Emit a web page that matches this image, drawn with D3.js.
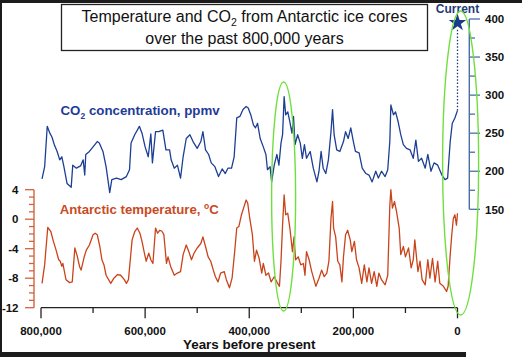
<!DOCTYPE html>
<html><head><meta charset="utf-8">
<script src="https://cdn.jsdelivr.net/npm/d3@7"></script>
<style>
html,body{margin:0;padding:0;background:#fff;}
svg{display:block;font-family:"Liberation Sans",Arial,sans-serif;}
</style></head>
<body><svg id="c" width="522" height="357"></svg>
<script>
// ---- data (age in thousand years before present) ----
const co2Age = [798,793,788,783,779,774,769,764,760,756,750,742,739,732,724,719,716,714,707,700,692,688,681,675,668,664,655,646,636,630,627,620,611,606,600,594,589,586,580,574,566,560,553,550,544,538,532,527,521,514,508,500,493,489,484,478,473,466,459,452,446,441,434,429,424,418,412,406,402,397,392,388,384,379,373,368,365,360,357,352,347,343,339,336,333,330,326,322,318,315,312,307,302,298,294,290,283,277,270,266,262,258,253,248,243,240,237,232,226,219,215,210,205,200,196,189,183,176,170,164,157,152,146,139,134,130,128,123,119,114,109,104,98,91,85,80,75,69,62,57,51,45,38,30,24,19,14,10,5,0];
const co2Val = [190,206,259,250,245,234,226,215,219,206,184,179,208,204,207,215,195,222,226,232,239,237,226,206,172,189,191,189,193,202,237,248,259,250,232,219,249,211,252,252,254,228,228,215,204,208,191,219,243,248,239,230,239,252,228,222,211,206,193,203,197,204,204,219,270,272,281,285,283,274,261,257,263,243,232,222,202,206,186,208,222,208,237,248,298,274,278,265,250,272,235,248,237,217,235,217,226,204,186,200,226,204,197,215,252,281,248,228,226,239,252,243,257,239,226,224,204,197,195,186,200,191,200,193,202,239,287,274,278,265,248,235,230,228,217,241,213,217,204,222,200,211,208,195,189,191,239,263,270,280];

const tempAge = [798,793,787,781,777,771,766,763,760,758,755,752,745,740,735,730,726,723,717,713,707,700,696,692,687,683,679,675,666,660,653,647,640,636,632,625,620,615,610,606,602,598,593,589,585,580,576,572,568,564,559,556,551,544,538,532,527,521,516,511,506,500,493,489,484,479,474,469,465,460,455,448,444,438,433,428,424,420,415,410,406,403,399,394,390,386,381,376,373,368,363,358,352,347,342,339,336,333,330,326,322,317,314,311,306,301,296,293,290,285,280,272,266,261,256,251,247,243,240,238,234,230,226,222,219,215,211,206,203,198,194,189,184,179,174,170,165,160,155,151,146,139,134,130,128,125,121,117,112,109,104,100,94,89,85,82,76,72,68,62,57,53,48,43,38,34,27,21,18,14,11,8,5,2,0];
const tempVal = [-8.7,-6.2,-1.1,-1.7,-2.8,-4.2,-5.5,-5.7,-6.4,-6.0,-7.1,-8.2,-8.6,-8.5,-3.9,-5.1,-6.4,-6.9,-5.1,-4.2,-3.5,-2.1,-1.9,-2.1,-3.7,-5.5,-6.2,-7.6,-8.7,-8.0,-7.5,-7.6,-8.2,-8.7,-8.2,-2.8,-1.7,-1.2,-1.9,-3.0,-4.4,-5.7,-4.6,-5.5,-6.0,-1.2,-1.9,-1.5,-1.6,-2.1,-6.0,-5.1,-6.4,-7.6,-7.3,-7.1,-4.8,-3.5,-4.4,-5.5,-4.6,-3.9,-3.3,-2.4,-3.7,-5.1,-5.7,-6.9,-7.8,-8.5,-7.3,-7.1,-8.2,-9.3,-8.0,-4.4,-1.2,-1.0,0.6,1.7,2.6,2.2,0.1,-2.1,-5.7,-4.2,-5.3,-7.3,-6.0,-7.6,-7.3,-8.5,-7.8,-8.5,-9.1,-5.7,-0.8,3.3,0.6,0.8,-1.2,-4.4,-2.4,-5.5,-5.1,-6.2,-6.0,-7.6,-4.4,-5.5,-7.1,-9.1,-8.0,-6.9,-7.8,-7.3,-5.7,0.1,2.4,-1.2,-2.4,-5.7,-6.2,-8.5,-5.1,-2.1,-1.5,-2.8,-4.4,-3.0,-5.5,-6.6,-8.7,-6.2,-8.5,-6.6,-8.7,-7.1,-9.1,-7.3,-8.2,-8.9,-7.6,1.9,4.0,1.5,2.4,1.0,-1.2,-4.8,-3.7,-5.1,-3.9,-6.6,-5.5,-2.8,-7.1,-5.7,-8.2,-8.9,-5.5,-8.0,-5.3,-8.5,-5.7,-8.7,-9.1,-9.8,-9.1,-4.8,-2.1,0.1,0.6,-0.8,0.8];

const currentCO2 = 395;
const xTicksMajor = [800,600,400,200,0];
const xTicksMinor = [700,500,300,100];
const tempTicksMajor = [4,0,-4,-8,-12];
const co2TicksMajor = [400,350,300,250,200,150];
const titleLines = ["Temperature and CO", "over the past 800,000 years"];

// ---- scales ----
const x = d3.scaleLinear().domain([800,0]).range([41,457.5]);
const yT = d3.scaleLinear().domain([-12,4]).range([307.7,189.7]);
const yC = d3.scaleLinear().domain([150,400]).range([209.3,19]);

const svg = d3.select("#c");
const font = '"Liberation Sans",Arial,sans-serif';
svg.append("rect").attr("width",522).attr("height",357).attr("fill","#fff");

// frame (screenshot border)
svg.append("rect").attr("x",0).attr("y",0).attr("width",522).attr("height",3).attr("fill","#1c1c1c");
svg.append("rect").attr("x",0).attr("y",0).attr("width",2).attr("height",357).attr("fill","#1c1c1c");
svg.append("rect").attr("x",0).attr("y",352).attr("width",466).attr("height",5).attr("fill","#1c1c1c");

// title box
svg.append("rect").attr("x",61.5).attr("y",4.5).attr("width",366).attr("height",46)
  .attr("fill","#fff").attr("stroke","#222").attr("stroke-width",1.3);
const t1 = svg.append("text").attr("x",244.5).attr("y",21.5).attr("text-anchor","middle")
  .attr("font-size",16).attr("fill","#111");
t1.append("tspan").text("Temperature and CO");
t1.append("tspan").attr("font-size",10.5).attr("dy",4).text("2");
t1.append("tspan").attr("dy",-4).text(" from Antarctic ice cores");
svg.append("text").attr("x",244.5).attr("y",44).attr("text-anchor","middle")
  .attr("font-size",16).attr("fill","#111").text(titleLines[1]);

// x axis
const xg = svg.append("g");
xg.append("line").attr("x1",x(800)).attr("x2",x(0)).attr("y1",307.7).attr("y2",307.7)
  .attr("stroke","#222").attr("stroke-width",1.3);
xg.selectAll(".mj").data(xTicksMajor).enter().append("line")
  .attr("x1",d=>x(d)).attr("x2",d=>x(d)).attr("y1",307.7).attr("y2",318.3)
  .attr("stroke","#222").attr("stroke-width",1.3);
xg.selectAll(".mn").data(xTicksMinor).enter().append("line")
  .attr("x1",d=>x(d)).attr("x2",d=>x(d)).attr("y1",307.7).attr("y2",313)
  .attr("stroke","#222").attr("stroke-width",1.3);
xg.selectAll(".lb").data(xTicksMajor).enter().append("text")
  .attr("x",d=>x(d)).attr("y",334.5).attr("text-anchor","middle")
  .attr("font-size",11.5).attr("font-weight","bold").attr("fill","#111")
  .text(d=>d3.format(",")(d*1000));
svg.append("text").attr("x",183).attr("y",348.5).attr("font-size",13.4)
  .attr("font-weight","bold").attr("fill","#111").text("Years before present");

// left temperature axis
const tCol = "#d0643c";
const lg = svg.append("g");
lg.append("line").attr("x1",34).attr("x2",34).attr("y1",yT(4)).attr("y2",yT(-12))
  .attr("stroke",tCol).attr("stroke-width",1.4);
lg.selectAll(".mn").data(d3.range(-12,4.5,1)).enter().append("line")
  .attr("x1",d=>tempTicksMajor.includes(d)?25:29).attr("x2",34)
  .attr("y1",d=>yT(d)).attr("y2",d=>yT(d)).attr("stroke",tCol).attr("stroke-width",1.3);
lg.selectAll(".lb").data(tempTicksMajor).enter().append("text")
  .attr("x",18.5).attr("y",d=>yT(d)+4.2).attr("text-anchor","end")
  .attr("font-size",11.5).attr("font-weight","bold").attr("fill","#111").text(d=>d);

// right co2 axis
const cCol = "#4a6ea8";
const rg = svg.append("g");
rg.append("line").attr("x1",469.3).attr("x2",469.3).attr("y1",yC(400)).attr("y2",yC(150))
  .attr("stroke",cCol).attr("stroke-width",1.4);
rg.selectAll(".mn").data(d3.range(150,401,25)).enter().append("line")
  .attr("x1",469.3).attr("x2",d=>co2TicksMajor.includes(d)?480:475)
  .attr("y1",d=>yC(d)).attr("y2",d=>yC(d)).attr("stroke",cCol).attr("stroke-width",1.3);
rg.selectAll(".lb").data(co2TicksMajor).enter().append("text")
  .attr("x",485).attr("y",d=>yC(d)+4.2)
  .attr("font-size",11.5).attr("font-weight","bold").attr("fill","#111").text(d=>d);

// series lines
const co2Data = co2Age.map((a,i)=>[a,co2Val[i]]);
const tempData = tempAge.map((a,i)=>[a,tempVal[i]]);
svg.append("path").datum(co2Data)
  .attr("d",d3.line().x(d=>x(d[0])).y(d=>yC(d[1])))
  .attr("fill","none").attr("stroke","#1c3f94").attr("stroke-width",1.3).attr("stroke-linejoin","round");
svg.append("path").datum(tempData)
  .attr("d",d3.line().x(d=>x(d[0])).y(d=>yT(d[1])))
  .attr("fill","none").attr("stroke","#c9431b").attr("stroke-width",1.3).attr("stroke-linejoin","round");

// series labels
const cl = svg.append("text").attr("x",60.5).attr("y",115).attr("font-size",13.3)
  .attr("font-weight","bold").attr("fill","#1f3c98");
cl.append("tspan").text("CO");
cl.append("tspan").attr("font-size",8.5).attr("dy",3.5).text("2");
cl.append("tspan").attr("dy",-3.5).text(" concentration, ppmv");
const tl = svg.append("text").attr("x",59.7).attr("y",213.5).attr("font-size",13.2)
  .attr("font-weight","bold").attr("fill","#c94a1f");
tl.append("tspan").text("Antarctic temperature, ");
tl.append("tspan").attr("font-size",8.5).attr("dy",-4.5).text("o");
tl.append("tspan").attr("dy",4.5).text("C");

// current marker
svg.append("line").attr("x1",x(0)).attr("x2",x(0)).attr("y1",yC(currentCO2)+7).attr("y2",yC(280))
  .attr("stroke","#1f3a7a").attr("stroke-width",1.3).attr("stroke-dasharray","1.5,1.8");
svg.append("path").attr("d",d3.symbol().type(d3.symbolStar).size(95)())
  .attr("transform",`translate(${x(0)},${yC(currentCO2)})`).attr("fill","#1a3a8a");
svg.append("text").attr("x",x(0)).attr("y",12.5).attr("text-anchor","middle")
  .attr("font-size",12).attr("font-weight","bold").attr("fill","#1f3a7a").text("Current");

// green highlight ellipses
const ell = [{age:334, top:82, bot:311, rx:12},{age:-6, top:11, bot:315, rx:18}];
svg.selectAll(".el").data(ell).enter().append("ellipse")
  .attr("cx",d=>x(d.age)).attr("cy",d=>(d.top+d.bot)/2)
  .attr("rx",d=>d.rx).attr("ry",d=>(d.bot-d.top)/2)
  .attr("fill","none").attr("stroke","#6ee03c").attr("stroke-width",1.4);
</script></body></html>
